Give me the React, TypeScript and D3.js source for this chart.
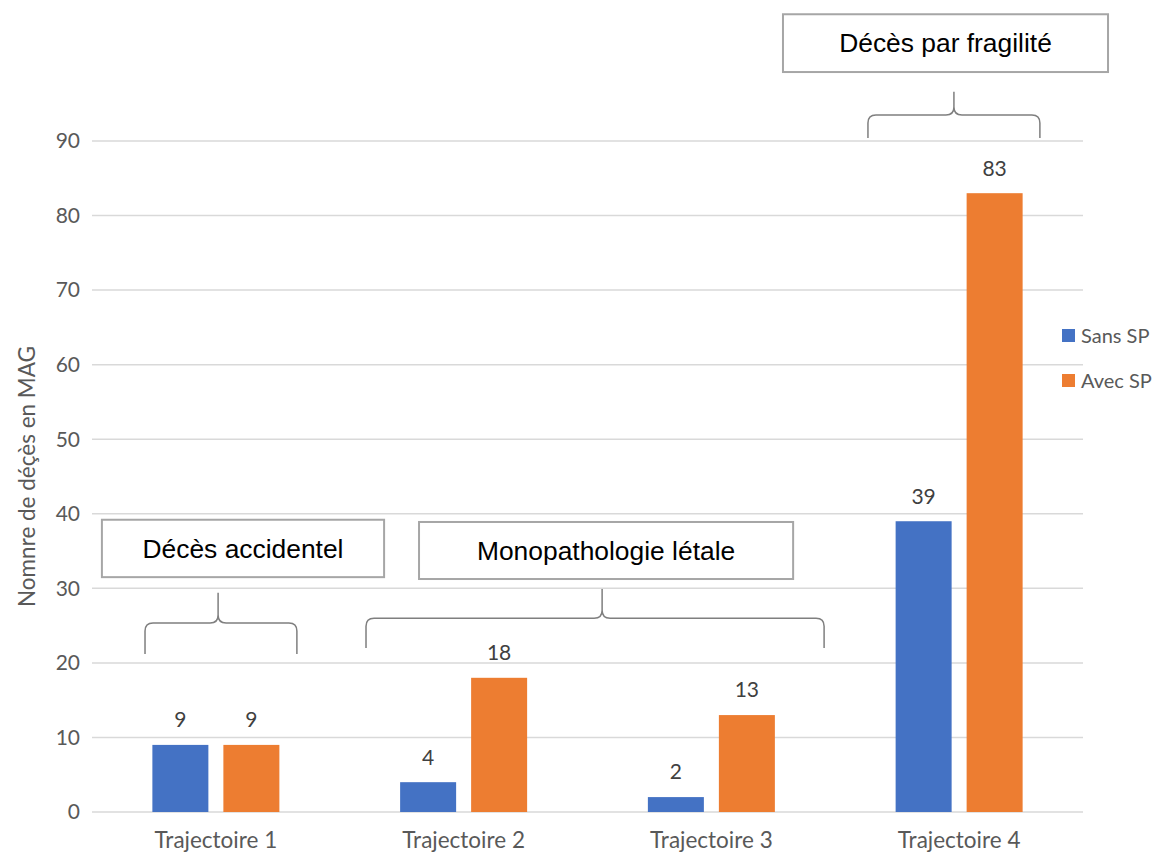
import React from "react";
import * as d3 from "d3";

const categories = ["Trajectoire 1", "Trajectoire 2", "Trajectoire 3", "Trajectoire 4"];
const seriesNames = ["Sans SP", "Avec SP"];
const sansSP = [9, 4, 2, 39];
const avecSP = [9, 18, 13, 83];
const yTicks = [0, 10, 20, 30, 40, 50, 60, 70, 80, 90];
const yTitle = "Nomnre de déçès en MAG";
const colors = ["#4472C4", "#ED7D31"];

// annotations: boxes and braces in (category position, value) units
const boxes = [
  { label: "Décès accidentel", x0: 0.04, x1: 1.179, y0: 31.5, y1: 39.2 },
  { label: "Monopathologie létale", x0: 1.32, x1: 2.83, y0: 31.25, y1: 38.9 },
  { label: "Décès par fragilité", x0: 2.789, x1: 4.101, y0: 99.25, y1: 107.0 },
];
const braces = [
  { x0: 0.214, x1: 0.827, xm: 0.509, yb: 21.2, yh: 25.35, yt: 29.4 },
  { x0: 1.106, x1: 2.955, xm: 2.059, yb: 22.0, yh: 26.0, yt: 29.9 },
  { x0: 3.132, x1: 3.826, xm: 3.479, yb: 90.4, yh: 93.5, yt: 96.6 },
];

const W = 1159, H = 855;
const plotLeft = 92, plotRight = 1083, plotTop = 141, plotBottom = 812;
const FONT = "Lato, 'Open Sans', sans-serif";

export default function App() {
  const x = d3.scaleBand<string>().domain(categories).range([plotLeft, plotRight]);
  const y = d3.scaleLinear().domain([0, 90]).range([plotBottom, plotTop]);
  const xPos = d3.scaleLinear().domain([0, 4]).range([plotLeft, plotRight]);
  const bw = x.bandwidth();
  const barW = 56, gap = 15;
  const groupStart = (bw - (2 * barW + gap)) / 2;
  const series = [sansSP, avecSP];

  const bracePath = (b: typeof braces[0]) => {
    const X0 = xPos(b.x0), X1 = xPos(b.x1), XM = xPos(b.xm);
    const YB = y(b.yb), YH = y(b.yh), YT = y(b.yt);
    const r = 8;
    return `M${X0},${YB} L${X0},${YH + r} Q${X0},${YH} ${X0 + r},${YH} L${XM - r},${YH} Q${XM},${YH} ${XM},${YH - r} L${XM},${YT}` +
      ` M${XM},${YH - r} Q${XM},${YH} ${XM + r},${YH} L${X1 - r},${YH} Q${X1},${YH} ${X1},${YH + r} L${X1},${YB}`;
  };

  return (
    <svg width={W} height={H} style={{ position: "absolute", left: 0, top: 0, background: "#fff" }}>
      {yTicks.map((t) => (
        <g key={t}>
          <line x1={plotLeft} x2={plotRight} y1={y(t)} y2={y(t)} stroke="#d9d9d9" strokeWidth={1.5} />
          <text x={80} y={y(t)} dy="0.35em" textAnchor="end" fontFamily={FONT} fontSize={21} fill="#595959">{t}</text>
        </g>
      ))}
      <text transform={`translate(27,${(plotTop + plotBottom) / 2}) rotate(-90)`} textAnchor="middle" dy="0.35em" fontFamily={FONT} fontSize={22.5} fill="#595959">{yTitle}</text>

      {categories.map((c, i) => (
        <g key={c} transform={`translate(${x(c)},0)`}>
          {series.map((s, k) => {
            const bx = groupStart + k * (barW + gap);
            return (
              <g key={k}>
                <rect x={bx} y={y(s[i])} width={barW} height={y(0) - y(s[i])} fill={colors[k]} />
                <text x={bx + barW / 2} y={y(s[i]) - 25} dy="0.35em" textAnchor="middle" fontFamily={FONT} fontSize={21} fill="#404040">{s[i]}</text>
              </g>
            );
          })}
          <text x={bw / 2} y={840} dy="0.35em" textAnchor="middle" fontFamily={FONT} fontSize={22.5} fill="#595959">{c}</text>
        </g>
      ))}

      {seriesNames.map((n, k) => (
        <g key={n} transform={`translate(1062,${329 + k * 45})`}>
          <rect width={13} height={13} fill={colors[k]} />
          <text x={19} y={7} dy="0.35em" fontFamily={FONT} fontSize={20} fill="#595959">{n}</text>
        </g>
      ))}

      {braces.map((b, i) => (
        <path key={i} d={bracePath(b)} fill="none" stroke="#7f7f7f" strokeWidth={1.5} />
      ))}
      {boxes.map((b) => (
        <g key={b.label}>
          <rect x={xPos(b.x0)} y={y(b.y1)} width={xPos(b.x1) - xPos(b.x0)} height={y(b.y0) - y(b.y1)} fill="#fff" stroke="#a6a6a6" strokeWidth={2} />
          <text x={(xPos(b.x0) + xPos(b.x1)) / 2} y={(y(b.y0) + y(b.y1)) / 2} dy="0.35em" textAnchor="middle" fontFamily="'Liberation Sans', Arial, sans-serif" fontSize={26.4} fill="#000">{b.label}</text>
        </g>
      ))}
    </svg>
  );
}
